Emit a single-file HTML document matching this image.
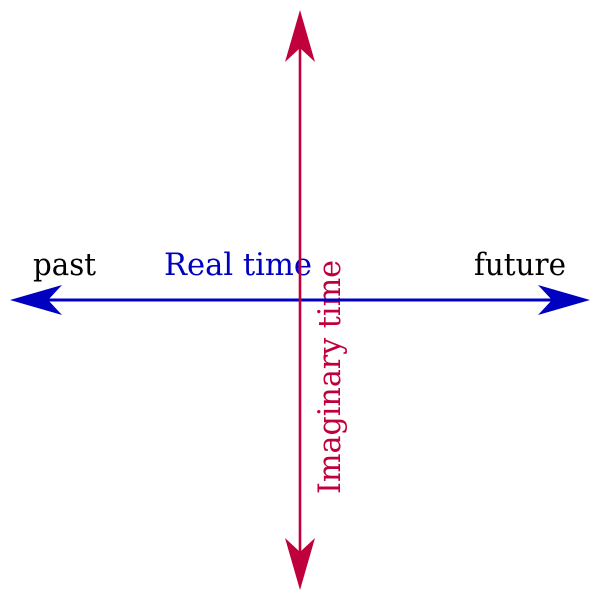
<!DOCTYPE html>
<html>
<head>
<meta charset="utf-8">
<style>
html,body{margin:0;padding:0;background:#fff;}
svg{display:block;}
text{font-family:"DejaVu Serif","Liberation Serif",serif;font-size:31px;}
</style>
</head>
<body>
<svg width="600" height="600" viewBox="0 0 600 600" xmlns="http://www.w3.org/2000/svg">
<rect width="600" height="600" fill="#fff"/>
<!-- Imaginary time label -->
<text transform="translate(340,494) rotate(-90)" x="0" y="0" fill="#c0003c" textLength="234" lengthAdjust="spacingAndGlyphs">Imaginary time</text>
<!-- horizontal axis -->
<line x1="40" y1="300" x2="560" y2="300" stroke="#0000c0" stroke-width="3"/>
<polygon points="10,300 62,285 48,300 62,315" fill="#0000c0"/>
<polygon points="590,300 538,285 552,300 538,315" fill="#0000c0"/>
<!-- labels -->
<text x="33" y="275" fill="#000" textLength="63" lengthAdjust="spacingAndGlyphs">past</text>
<text x="164" y="275" fill="#0000c0" textLength="148" lengthAdjust="spacingAndGlyphs">Real time</text>
<text x="474" y="275" fill="#000" textLength="92" lengthAdjust="spacingAndGlyphs">future</text>
<!-- vertical axis -->
<line x1="300" y1="40" x2="300" y2="560" stroke="#c0003c" stroke-width="2.6"/>
<polygon points="300,10 285,62 300,48 315,62" fill="#c0003c"/>
<polygon points="300,590 285,538 300,552 315,538" fill="#c0003c"/>
</svg>
</body>
</html>
